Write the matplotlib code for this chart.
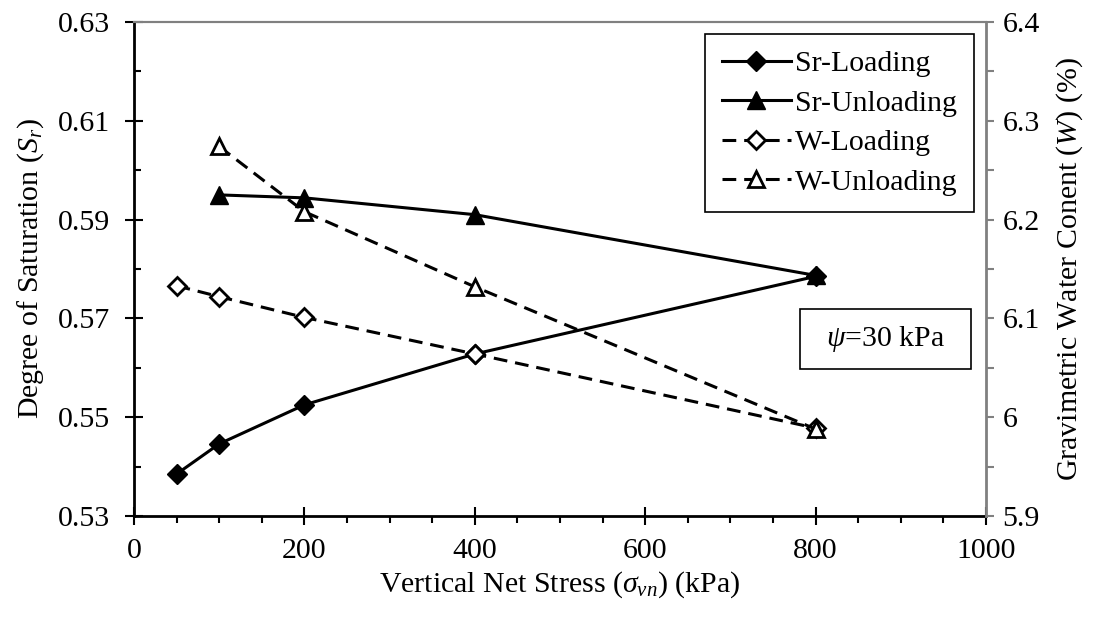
#! /usr/bin/env python

# Sr and W versus vertical net stress, loading / unloading at psi=30 kPa

import matplotlib
matplotlib.use("Agg")
import matplotlib.pyplot as plt
import numpy as np
from matplotlib.ticker import MultipleLocator, FixedLocator, FormatStrFormatter, FuncFormatter
from matplotlib.patches import Rectangle

plt.rcParams['font.family'] = ['Liberation Serif', 'DejaVu Serif']
plt.rcParams['mathtext.fontset'] = 'custom'
plt.rcParams['mathtext.rm'] = 'Liberation Serif'
plt.rcParams['mathtext.it'] = 'Liberation Serif:italic'

FS = 21.5

# vertical net stress (kPa)
stress_load = [50, 100, 200, 400, 800]
stress_unload = [100, 200, 400, 800]

# degree of saturation
sr_load = [0.5385, 0.5446, 0.5525, 0.5628, 0.5785]
sr_unload = [0.5950, 0.5944, 0.5910, 0.5787]

# gravimetric water content (%)
w_load = [6.133, 6.122, 6.101, 6.064, 5.989]
w_unload = [6.274, 6.208, 6.132, 5.988]

fig = plt.figure(figsize=(10.95, 6.18), dpi=100)
ax = fig.add_axes([134/1095., 1 - 516/618., 852/1095., 494/618.])
ax2 = ax.twinx()

lw = 2.2
dash = (0, (4.5, 2.6))
l1, = ax.plot(stress_load, sr_load, color='k', lw=lw, marker='D', ms=10.5,
              mfc='k', mec='k', label='Sr-Loading')
l2, = ax.plot(stress_unload, sr_unload, color='k', lw=lw, marker='^', ms=13,
              mfc='k', mec='k', label='Sr-Unloading')
l3, = ax2.plot(stress_load, w_load, color='k', lw=lw, ls=dash, marker='D', ms=9,
               mfc='white', mec='k', mew=2, label='W-Loading')
l4, = ax2.plot(stress_unload, w_unload, color='k', lw=lw, ls=dash, marker='^', ms=11,
               mfc='white', mec='k', mew=2, label='W-Unloading')

ax.set_xlim(0, 1000)
ax.set_ylim(0.53, 0.63)
ax2.set_ylim(5.9, 6.4)

ax.xaxis.set_major_locator(MultipleLocator(200))
ax.xaxis.set_minor_locator(MultipleLocator(50))
ax.yaxis.set_major_locator(FixedLocator(np.arange(0.53, 0.6301, 0.02)))
ax.yaxis.set_minor_locator(FixedLocator(np.arange(0.54, 0.63, 0.02)))
ax.yaxis.set_major_formatter(FormatStrFormatter('%.2f'))
ax2.yaxis.set_major_locator(MultipleLocator(0.1))
ax2.yaxis.set_minor_locator(MultipleLocator(0.05))
ax2.yaxis.set_major_formatter(FuncFormatter(lambda v, p: '%g' % round(v, 2)))

ax.tick_params(axis='x', which='major', direction='inout', length=13, width=1.5,
               labelsize=FS, pad=9)
ax.tick_params(axis='x', which='minor', direction='out', length=5, width=1.5)
ax.tick_params(axis='y', which='major', direction='inout', length=13, width=1.5,
               labelsize=FS, pad=11)
ax.tick_params(axis='y', which='minor', direction='in', length=5, width=1.5)
ax2.tick_params(axis='y', which='major', direction='out', length=6, width=1.5,
                color='#808080', labelsize=FS, pad=6)
ax2.tick_params(axis='y', which='minor', direction='out', length=6, width=1.5,
                color='#808080')

for a in (ax, ax2):
    a.spines['top'].set_color('#808080')
    a.spines['top'].set_linewidth(1.5)
ax.spines['left'].set_linewidth(2)
ax.spines['bottom'].set_linewidth(2)
ax.spines['right'].set_visible(False)
ax2.spines['left'].set_visible(False)
ax2.spines['bottom'].set_visible(False)
ax2.spines['right'].set_color('#808080')
ax2.spines['right'].set_linewidth(2)

ax.set_xlabel(r'Vertical Net Stress ($\sigma_{vn}$) (kPa)', fontsize=FS, labelpad=4)
ax.set_ylabel(r'Degree of Saturation ($S_r$)', fontsize=FS, labelpad=8)
ax2.set_ylabel(r'Gravimetric Water Conent ($W$) (%)', fontsize=FS, labelpad=10)

leg = ax2.legend(handles=[l1, l2, l3, l4], loc='upper right',
                 bbox_to_anchor=(0.986, 0.976), borderaxespad=0, fontsize=FS,
                 fancybox=False, framealpha=1, edgecolor='k', handlelength=2.3,
                 handletextpad=0.15, labelspacing=0.42, borderpad=0.55)
leg.get_frame().set_linewidth(1.2)

# psi box
ax2.add_patch(Rectangle((0.7817, 0.2978), 0.2007, 0.1215, transform=ax2.transAxes,
                        fill=False, ec='k', lw=1.2))
ax2.text(0.882, 0.358, r'$\psi$=30 kPa', transform=ax2.transAxes, fontsize=FS,
         ha='center', va='center')

plt.savefig('out.png', dpi=100)
